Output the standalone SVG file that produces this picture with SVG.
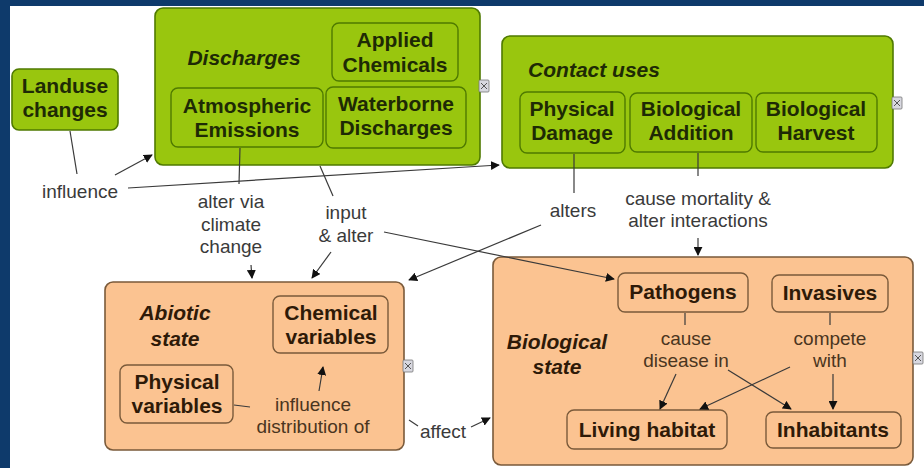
<svg xmlns="http://www.w3.org/2000/svg" width="924" height="468" viewBox="0 0 924 468">
  <defs>
    <style>
      .g { fill: #99c60e; stroke: #4f7a00; stroke-width: 1.6; }
      .gi { fill: #99c60e; stroke: #4f7a00; stroke-width: 1.4; }
      .p { fill: #fbc391; stroke: #7a5a3a; stroke-width: 1.6; }
      .pi { fill: #fbc391; stroke: #7a5a3a; stroke-width: 1.4; }
      .gt { font-family: "Liberation Sans", Arial, sans-serif; font-weight: bold; font-size: 21px; fill: #1e2a05; text-anchor: middle; }
      .pt { font-family: "Liberation Sans", Arial, sans-serif; font-weight: bold; font-size: 21px; fill: #2e1a08; text-anchor: middle; }
      .ti { font-style: italic; }
      .lb { font-family: "Liberation Sans", Arial, sans-serif; font-size: 19px; fill: #3a3a3a; text-anchor: middle; }
      .lbp { font-family: "Liberation Sans", Arial, sans-serif; font-size: 19px; fill: #4a3520; text-anchor: middle; }
      .ln { fill: none; stroke: #3a3a3a; stroke-width: 1.2; }
      .ar { fill: none; stroke: #3a3a3a; stroke-width: 1.2; marker-end: url(#tip); }
      .ico { fill: #d8d8e0; stroke: #777; stroke-width: 0.8; }
    </style>
    <marker id="tip" viewBox="0 0 10 10" refX="9" refY="5" markerWidth="9" markerHeight="9" markerUnits="userSpaceOnUse" orient="auto">
      <path d="M0,0 L10,5 L0,10 Z" fill="#111"/>
    </marker>
    <g id="collapse">
      <rect class="ico" x="-5" y="-6" width="10" height="12" rx="1"/>
      <path d="M-3,-3 L3,3 M3,-3 L-3,3" stroke="#555" stroke-width="1"/>
    </g>
  </defs>

  <!-- frame -->
  <rect x="0" y="0" width="924" height="468" fill="#ffffff"/>
  <rect x="0" y="0" width="924" height="6" fill="#0e3a6b"/>
  <rect x="0" y="0" width="10" height="468" fill="#0e3a6b"/>

  <!-- Landuse changes -->
  <g id="landuse">
    <rect class="g" x="12" y="69" width="106" height="61" rx="7"/>
    <text class="gt" x="65" y="93">Landuse</text>
    <text class="gt" x="65" y="117">changes</text>
  </g>

  <!-- Discharges -->
  <g id="discharges">
    <rect class="g" x="155" y="8" width="325" height="157" rx="8"/>
    <text class="gt ti" x="244" y="65">Discharges</text>
    <use href="#collapse" x="484" y="86"/>
  </g>
  <g id="applied-chemicals">
    <rect class="gi" x="332" y="23" width="126" height="58" rx="7"/>
    <text class="gt" x="395" y="47">Applied</text>
    <text class="gt" x="395" y="72">Chemicals</text>
  </g>
  <g id="atmospheric-emissions">
    <rect class="gi" x="171" y="88" width="152" height="59" rx="7"/>
    <text class="gt" x="247" y="113">Atmospheric</text>
    <text class="gt" x="247" y="137">Emissions</text>
  </g>
  <g id="waterborne-discharges">
    <rect class="gi" x="326" y="87" width="140" height="61" rx="7"/>
    <text class="gt" x="396" y="111">Waterborne</text>
    <text class="gt" x="396" y="135">Discharges</text>
  </g>

  <!-- Contact uses -->
  <g id="contact-uses">
    <rect class="g" x="502" y="36" width="391" height="132" rx="8"/>
    <text class="gt ti" x="594" y="77">Contact uses</text>
    <use href="#collapse" x="897" y="103"/>
  </g>
  <g id="physical-damage">
    <rect class="gi" x="520" y="92" width="105" height="61" rx="7"/>
    <text class="gt" x="572" y="116">Physical</text>
    <text class="gt" x="572" y="140">Damage</text>
  </g>
  <g id="biological-addition">
    <rect class="gi" x="630" y="93" width="122" height="59" rx="7"/>
    <text class="gt" x="691" y="116">Biological</text>
    <text class="gt" x="691" y="140">Addition</text>
  </g>
  <g id="biological-harvest">
    <rect class="gi" x="756" y="93" width="121" height="59" rx="7"/>
    <text class="gt" x="816" y="116">Biological</text>
    <text class="gt" x="816" y="140">Harvest</text>
  </g>

  <!-- Abiotic state -->
  <g id="abiotic-state">
    <rect class="p" x="105" y="282" width="299" height="168" rx="8"/>
    <text class="pt ti" x="175" y="320">Abiotic</text>
    <text class="pt ti" x="175" y="346">state</text>
    <use href="#collapse" x="408" y="366"/>
  </g>
  <g id="chemical-variables">
    <rect class="pi" x="273" y="296" width="115" height="57" rx="7"/>
    <text class="pt" x="331" y="320">Chemical</text>
    <text class="pt" x="331" y="344">variables</text>
  </g>
  <g id="physical-variables">
    <rect class="pi" x="120" y="365" width="113" height="58" rx="7"/>
    <text class="pt" x="177" y="389">Physical</text>
    <text class="pt" x="177" y="413">variables</text>
  </g>

  <!-- Biological state -->
  <g id="biological-state">
    <rect class="p" x="493" y="257" width="420" height="208" rx="8"/>
    <text class="pt ti" x="557" y="349">Biological</text>
    <text class="pt ti" x="557" y="374">state</text>
    <use href="#collapse" x="918" y="358"/>
  </g>
  <g id="pathogens">
    <rect class="pi" x="618" y="273" width="130" height="39" rx="7"/>
    <text class="pt" x="683" y="299">Pathogens</text>
  </g>
  <g id="invasives">
    <rect class="pi" x="772" y="275" width="116" height="37" rx="7"/>
    <text class="pt" x="830" y="300">Invasives</text>
  </g>
  <g id="living-habitat">
    <rect class="pi" x="567" y="410" width="160" height="39" rx="7"/>
    <text class="pt" x="647" y="437">Living habitat</text>
  </g>
  <g id="inhabitants">
    <rect class="pi" x="766" y="412" width="135" height="36" rx="7"/>
    <text class="pt" x="833" y="437">Inhabitants</text>
  </g>

  <!-- connectors, drawn over the containers -->
  <g id="connectors">
    <path class="ln" d="M70,131 L77,174"/>
    <path class="ar" d="M115,175 L152,155"/>
    <path class="ar" d="M128,188 L499,165"/>
    <path class="ln" d="M240,148 L239,184"/>
    <path class="ar" d="M251,265 L252,278"/>
    <path class="ln" d="M320,166 L333,196"/>
    <path class="ar" d="M331,252 L312,278"/>
    <path class="ar" d="M384,232 L614,279"/>
    <path class="ln" d="M574,154 L574,193"/>
    <path class="ar" d="M541,225 L409,280"/>
    <path class="ln" d="M698,153 L698,176"/>
    <path class="ar" d="M698,238 L698,255"/>
    <path class="ln" d="M685,313 L685,325"/>
    <path class="ar" d="M676,374 L660,409"/>
    <path class="ar" d="M728,370 L791,409"/>
    <path class="ln" d="M830,313 L830,325"/>
    <path class="ar" d="M790,367 L700,409"/>
    <path class="ar" d="M833,374 L833,409"/>
    <path class="ln" d="M234,405 L250,407"/>
    <path class="ar" d="M319,391 L323,367"/>
    <path class="ln" d="M409,420 L418,426"/>
    <path class="ar" d="M471,427 L490,418"/>
  </g>

  <!-- link labels -->
  <g id="labels">
    <text class="lb" x="80" y="198">influence</text>
    <text class="lb" x="231" y="208">alter via</text>
    <text class="lb" x="231" y="231">climate</text>
    <text class="lb" x="231" y="253">change</text>
    <text class="lb" x="346" y="219">input</text>
    <text class="lb" x="346" y="242">&amp; alter</text>
    <text class="lb" x="573" y="217">alters</text>
    <text class="lb" x="698" y="205">cause mortality &amp;</text>
    <text class="lb" x="698" y="227">alter interactions</text>
    <text class="lbp" x="686" y="345">cause</text>
    <text class="lbp" x="686" y="367">disease in</text>
    <text class="lbp" x="830" y="345">compete</text>
    <text class="lbp" x="830" y="367">with</text>
    <text class="lbp" x="313" y="411">influence</text>
    <text class="lbp" x="313" y="433">distribution of</text>
    <text class="lb" x="443" y="438">affect</text>
  </g>
</svg>
